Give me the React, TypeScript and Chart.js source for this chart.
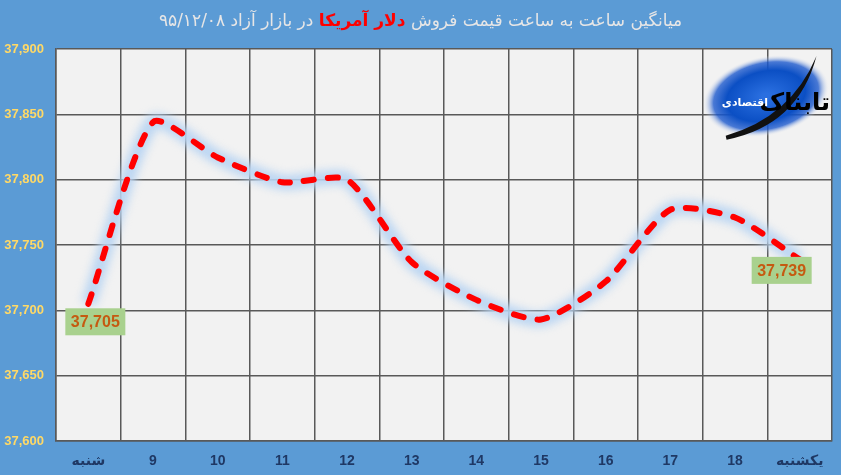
import React, { useEffect, useRef } from "react";
import { Chart, registerables } from "chart.js";

Chart.register(...registerables);

const categories = ["شنبه", "9", "10", "11", "12", "13", "14", "15", "16", "17", "18", "یکشنبه"];
const prices = [37705, 37844, 37817, 37798, 37800, 37737, 37708, 37693, 37722, 37777, 37771, 37739];
const labelledIndexes = [0, 11];
const yMin = 37600;
const yMax = 37900;
const yStep = 50;

const W = 841;
const H = 475;

const bgPlugin = {
  id: "plotBg",
  beforeDraw(chart: any) {
    const { ctx, chartArea } = chart;
    ctx.save();
    ctx.fillStyle = "#F2F2F2";
    ctx.fillRect(chartArea.left, chartArea.top, chartArea.right - chartArea.left, chartArea.bottom - chartArea.top);
    ctx.restore();
  },
};

const glowPlugin = {
  id: "glow",
  beforeDatasetDraw(chart: any, args: any) {
    if (args.index === 1) {
      chart.ctx.save();
      chart.ctx.filter = "blur(4px)";
    }
  },
  afterDatasetDraw(chart: any, args: any) {
    if (args.index === 1) {
      chart.ctx.restore();
    }
  },
};

const labelOffsets: Record<number, [number, number]> = { 0: [7, 18], 11: [-18, 11] };

const valueLabelPlugin = {
  id: "valueLabels",
  afterDatasetsDraw(chart: any) {
    const { ctx, scales } = chart;
    ctx.save();
    ctx.font = "bold 16px 'Liberation Sans', Arial, sans-serif";
    ctx.textAlign = "center";
    ctx.textBaseline = "middle";
    labelledIndexes.forEach((i) => {
      const x = scales.x.getPixelForValue(i);
      const y = scales.y.getPixelForValue(prices[i]);
      const [dx, dy] = labelOffsets[i] || [0, 16];
      const cx = x + dx;
      const cy = y + dy;
      const txt = prices[i].toLocaleString("en-US");
      const bw = 60;
      const bh = 27;
      ctx.fillStyle = "#A9D18E";
      ctx.fillRect(cx - bw / 2, cy - bh / 2, bw, bh);
      ctx.fillStyle = "#C55A11";
      ctx.fillText(txt, cx, cy + 1);
    });
    ctx.restore();
  },
};

const logoPlugin = {
  id: "logo",
  afterDraw(chart: any) {
    const { ctx } = chart;
    ctx.save();
    ctx.translate(766, 96);
    ctx.rotate(-0.22);
    ctx.save();
    ctx.scale(1, 0.62);
    const g = ctx.createRadialGradient(0, 0, 4, 0, 0, 64);
    g.addColorStop(0, "#2a6fe0");
    g.addColorStop(0.6, "#0b4fc4");
    g.addColorStop(0.82, "rgba(30,90,205,0.8)");
    g.addColorStop(1, "rgba(242,242,242,0)");
    ctx.fillStyle = g;
    ctx.beginPath();
    ctx.arc(0, 0, 64, 0, Math.PI * 2);
    ctx.fill();
    ctx.restore();
    // swoosh
    ctx.fillStyle = "#111";
    ctx.beginPath();
    ctx.moveTo(-48, 34);
    ctx.quadraticCurveTo(25, 36, 58, -28);
    ctx.quadraticCurveTo(20, 26, -48, 30);
    ctx.closePath();
    ctx.fill();
    ctx.restore();

    ctx.save();
    ctx.direction = "rtl";
    ctx.textAlign = "right";
    ctx.textBaseline = "alphabetic";
    ctx.fillStyle = "#000";
    ctx.font = "bold 24px 'DejaVu Sans', sans-serif";
    ctx.fillText("تابناک", 830, 110);
    ctx.fillStyle = "#fff";
    ctx.font = "bold 11px 'DejaVu Sans', sans-serif";
    ctx.fillText("اقتصادی", 768, 106);
    ctx.restore();
  },
};

export default function App() {
  const canvasRef = useRef<HTMLCanvasElement | null>(null);

  useEffect(() => {
    document.body.style.margin = "0";
    const canvas = canvasRef.current;
    if (!canvas) return;
    const chart = new Chart(canvas, {
      type: "line",
      data: {
        labels: categories,
        datasets: [
          {
            data: prices,
            borderColor: "#FF0000",
            borderWidth: 6,
            borderDash: [10, 14],
            borderCapStyle: "round",
            borderJoinStyle: "round",
            tension: 0.22,
            pointRadius: 0,
            fill: false,
            order: 0,
          },
          {
            data: prices,
            borderColor: "rgba(185,213,242,0.95)",
            borderWidth: 15,
            tension: 0.22,
            pointRadius: 0,
            fill: false,
            order: 1,
          },
        ],
      },
      options: {
        responsive: false,
        animation: false,
        devicePixelRatio: 1,
        layout: { padding: { top: 49, right: 9, left: 0, bottom: 0 } },
        plugins: {
          legend: { display: false },
          title: { display: false },
          tooltip: { enabled: false },
        },
        scales: {
          x: {
            type: "category",
            offset: true,
            grid: { offset: true, color: "#595959", lineWidth: 1.5, drawTicks: false },
            border: { color: "#595959", width: 1.5 },
            ticks: {
              color: "#1F3864",
              font: { family: "'Liberation Sans', 'DejaVu Sans', sans-serif", size: 14, weight: "bold" },
              padding: 12,
              maxRotation: 0,
              autoSkip: false,
            },
            afterFit(scale: any) {
              scale.height = 34;
            },
          },
          y: {
            min: yMin,
            max: yMax,
            grid: { color: "#595959", lineWidth: 1.5, drawTicks: false },
            border: { color: "#595959", width: 1.5 },
            ticks: {
              stepSize: yStep,
              color: "#FFD966",
              font: { family: "'Liberation Sans', Arial, sans-serif", size: 13, weight: "bold" },
              padding: 12,
              callback: (v: any) => Number(v).toLocaleString("en-US"),
            },
            afterFit(scale: any) {
              scale.width = 56;
            },
          },
        },
      },
      plugins: [bgPlugin, glowPlugin, valueLabelPlugin, logoPlugin],
    });
    return () => chart.destroy();
  }, []);

  return (
    <div style={{ position: "relative", width: W, height: H, background: "#5B9BD5", overflow: "hidden" }}>
      <canvas ref={canvasRef} width={W} height={H} style={{ width: W, height: H, display: "block" }} />
      <div
        dir="rtl"
        style={{
          position: "absolute",
          top: 8,
          left: 0,
          width: W,
          textAlign: "center",
          fontFamily: "'DejaVu Sans', sans-serif",
          fontWeight: "normal",
          fontSize: 17,
          color: "#E7E6E6",
          lineHeight: "24px",
        }}
      >
        میانگین ساعت به ساعت قیمت فروش <span style={{ color: "#FF0000", fontWeight: "bold" }}>دلار آمریکا</span> در بازار آزاد ۹۵/۱۲/۰۸
      </div>
    </div>
  );
}
